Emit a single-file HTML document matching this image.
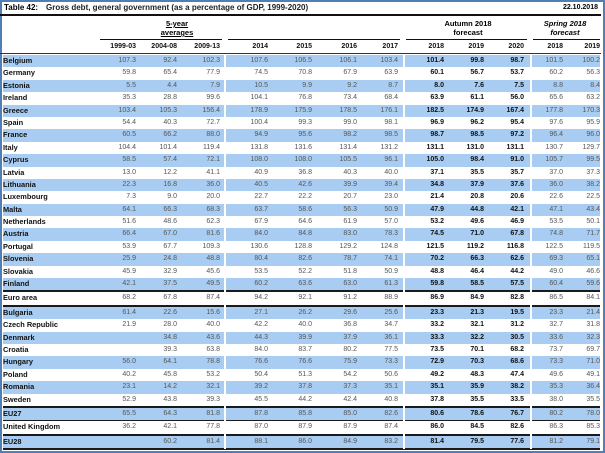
<!DOCTYPE html>
<html><head><meta charset="utf-8"><style>
body{margin:0;width:605px;height:453px;overflow:hidden;background:#fff;font-family:"Liberation Sans",sans-serif;}
.frame{position:absolute;left:0;top:0;width:601px;height:449px;border:2px solid #4f7fb5;}
.abs{position:absolute;white-space:nowrap;}
.g{display:grid;grid-template-columns:97px 36px 41px 43px 48px 44px 45px 41px 46px 40px 40px 39px 37px;position:absolute;left:3px;width:597px;}
.r{height:12.4px;line-height:12.4px;font-size:7px;color:#555;}
.r>span{text-align:right;}
.r>span:first-child{text-align:left;font-weight:bold;color:#111;font-size:7.4px;}
.r>span:nth-child(9),.r>span:nth-child(10),.r>span:nth-child(11){font-weight:bold;color:#111;}
.b{background:#a9cdf2;}
.hr{height:2px;background:#1a1a1a;}
.thin{height:1px;background:#1a1a1a;}
#rows{position:absolute;left:3px;top:55px;width:597px;}
#rows .g{position:static;}
.vs{position:absolute;top:55px;width:2px;height:394px;background:#fff;}
</style></head><body>
<div class="frame"></div>
<div class="abs" style="left:4px;top:3px;font-size:8px;font-weight:bold;">Table 42:</div>
<div class="abs" style="left:46px;top:3px;font-size:8px;font-weight:bold;color:#222;">Gross debt, general government (as a percentage of GDP, 1999-2020)</div>
<div class="abs" style="right:7px;top:4px;font-size:7px;font-weight:bold;">22.10.2018</div>
<div class="abs" style="left:0;top:14px;width:601px;height:2px;background:#111;"></div>
<div class="abs" style="left:147px;width:60px;text-align:center;top:19px;font-size:7.5px;font-weight:bold;text-decoration:underline;">5-year</div>
<div class="abs" style="left:147px;width:60px;text-align:center;top:28px;font-size:7.5px;font-weight:bold;text-decoration:underline;">averages</div>
<div class="abs" style="left:430px;width:76px;text-align:center;top:19px;font-size:7.5px;font-weight:bold;">Autumn 2018</div>
<div class="abs" style="left:430px;width:76px;text-align:center;top:28px;font-size:7.5px;font-weight:bold;">forecast</div>
<div class="abs" style="left:530px;width:70px;text-align:center;top:19px;font-size:7.5px;font-weight:bold;font-style:italic;">Spring 2018</div>
<div class="abs" style="left:530px;width:70px;text-align:center;top:28px;font-size:7.5px;font-weight:bold;font-style:italic;">forecast</div>
<div class="abs" style="left:100px;top:39px;width:122px;height:1px;background:#111;"></div>
<div class="abs" style="left:228px;top:39px;width:172px;height:1px;background:#111;"></div>
<div class="abs" style="left:406px;top:39px;width:121px;height:1px;background:#111;"></div>
<div class="abs" style="left:533px;top:39px;width:67px;height:1px;background:#111;"></div>
<div class="g r" style="top:41px;"><span></span><span style="font-weight:bold;color:#111">1999-03</span><span style="font-weight:bold;color:#111">2004-08</span><span style="font-weight:bold;color:#111">2009-13</span><span style="font-weight:bold;color:#111">2014</span><span style="font-weight:bold;color:#111">2015</span><span style="font-weight:bold;color:#111">2016</span><span style="font-weight:bold;color:#111">2017</span><span>2018</span><span>2019</span><span>2020</span><span style="font-weight:bold;color:#111">2018</span><span style="font-weight:bold;color:#111">2019</span></div>
<div class="abs" style="left:0;top:53px;width:601px;height:1px;background:#333;"></div>
<div id="rows">
<div class="g r b"><span>Belgium</span><span>107.3</span><span>92.4</span><span>102.3</span><span>107.6</span><span>106.5</span><span>106.1</span><span>103.4</span><span>101.4</span><span>99.8</span><span>98.7</span><span>101.5</span><span>100.2</span></div>
<div class="g r"><span>Germany</span><span>59.8</span><span>65.4</span><span>77.9</span><span>74.5</span><span>70.8</span><span>67.9</span><span>63.9</span><span>60.1</span><span>56.7</span><span>53.7</span><span>60.2</span><span>56.3</span></div>
<div class="g r b"><span>Estonia</span><span>5.5</span><span>4.4</span><span>7.9</span><span>10.5</span><span>9.9</span><span>9.2</span><span>8.7</span><span>8.0</span><span>7.6</span><span>7.5</span><span>8.8</span><span>8.4</span></div>
<div class="g r"><span>Ireland</span><span>35.3</span><span>28.8</span><span>99.6</span><span>104.1</span><span>76.8</span><span>73.4</span><span>68.4</span><span>63.9</span><span>61.1</span><span>56.0</span><span>65.6</span><span>63.2</span></div>
<div class="g r b"><span>Greece</span><span>103.4</span><span>105.3</span><span>156.4</span><span>178.9</span><span>175.9</span><span>178.5</span><span>176.1</span><span>182.5</span><span>174.9</span><span>167.4</span><span>177.8</span><span>170.3</span></div>
<div class="g r"><span>Spain</span><span>54.4</span><span>40.3</span><span>72.7</span><span>100.4</span><span>99.3</span><span>99.0</span><span>98.1</span><span>96.9</span><span>96.2</span><span>95.4</span><span>97.6</span><span>95.9</span></div>
<div class="g r b"><span>France</span><span>60.5</span><span>66.2</span><span>88.0</span><span>94.9</span><span>95.6</span><span>98.2</span><span>98.5</span><span>98.7</span><span>98.5</span><span>97.2</span><span>96.4</span><span>96.0</span></div>
<div class="g r"><span>Italy</span><span>104.4</span><span>101.4</span><span>119.4</span><span>131.8</span><span>131.6</span><span>131.4</span><span>131.2</span><span>131.1</span><span>131.0</span><span>131.1</span><span>130.7</span><span>129.7</span></div>
<div class="g r b"><span>Cyprus</span><span>58.5</span><span>57.4</span><span>72.1</span><span>108.0</span><span>108.0</span><span>105.5</span><span>96.1</span><span>105.0</span><span>98.4</span><span>91.0</span><span>105.7</span><span>99.5</span></div>
<div class="g r"><span>Latvia</span><span>13.0</span><span>12.2</span><span>41.1</span><span>40.9</span><span>36.8</span><span>40.3</span><span>40.0</span><span>37.1</span><span>35.5</span><span>35.7</span><span>37.0</span><span>37.3</span></div>
<div class="g r b"><span>Lithuania</span><span>22.3</span><span>16.8</span><span>36.0</span><span>40.5</span><span>42.6</span><span>39.9</span><span>39.4</span><span>34.8</span><span>37.9</span><span>37.6</span><span>36.0</span><span>38.2</span></div>
<div class="g r"><span>Luxembourg</span><span>7.3</span><span>9.0</span><span>20.0</span><span>22.7</span><span>22.2</span><span>20.7</span><span>23.0</span><span>21.4</span><span>20.8</span><span>20.6</span><span>22.6</span><span>22.5</span></div>
<div class="g r b"><span>Malta</span><span>64.1</span><span>66.3</span><span>68.3</span><span>63.7</span><span>58.6</span><span>56.3</span><span>50.9</span><span>47.9</span><span>44.8</span><span>42.1</span><span>47.1</span><span>43.4</span></div>
<div class="g r"><span>Netherlands</span><span>51.6</span><span>48.6</span><span>62.3</span><span>67.9</span><span>64.6</span><span>61.9</span><span>57.0</span><span>53.2</span><span>49.6</span><span>46.9</span><span>53.5</span><span>50.1</span></div>
<div class="g r b"><span>Austria</span><span>66.4</span><span>67.0</span><span>81.6</span><span>84.0</span><span>84.8</span><span>83.0</span><span>78.3</span><span>74.5</span><span>71.0</span><span>67.8</span><span>74.8</span><span>71.7</span></div>
<div class="g r"><span>Portugal</span><span>53.9</span><span>67.7</span><span>109.3</span><span>130.6</span><span>128.8</span><span>129.2</span><span>124.8</span><span>121.5</span><span>119.2</span><span>116.8</span><span>122.5</span><span>119.5</span></div>
<div class="g r b"><span>Slovenia</span><span>25.9</span><span>24.8</span><span>48.8</span><span>80.4</span><span>82.6</span><span>78.7</span><span>74.1</span><span>70.2</span><span>66.3</span><span>62.6</span><span>69.3</span><span>65.1</span></div>
<div class="g r"><span>Slovakia</span><span>45.9</span><span>32.9</span><span>45.6</span><span>53.5</span><span>52.2</span><span>51.8</span><span>50.9</span><span>48.8</span><span>46.4</span><span>44.2</span><span>49.0</span><span>46.6</span></div>
<div class="g r b"><span>Finland</span><span>42.1</span><span>37.5</span><span>49.5</span><span>60.2</span><span>63.6</span><span>63.0</span><span>61.3</span><span>59.8</span><span>58.5</span><span>57.5</span><span>60.4</span><span>59.6</span></div>
<div class="hr"></div>
<div class="g r"><span>Euro area</span><span>68.2</span><span>67.8</span><span>87.4</span><span>94.2</span><span>92.1</span><span>91.2</span><span>88.9</span><span>86.9</span><span>84.9</span><span>82.8</span><span>86.5</span><span>84.1</span></div>
<div class="hr"></div>
<div class="g r b"><span>Bulgaria</span><span>61.4</span><span>22.6</span><span>15.6</span><span>27.1</span><span>26.2</span><span>29.6</span><span>25.6</span><span>23.3</span><span>21.3</span><span>19.5</span><span>23.3</span><span>21.4</span></div>
<div class="g r"><span>Czech Republic</span><span>21.9</span><span>28.0</span><span>40.0</span><span>42.2</span><span>40.0</span><span>36.8</span><span>34.7</span><span>33.2</span><span>32.1</span><span>31.2</span><span>32.7</span><span>31.8</span></div>
<div class="g r b"><span>Denmark</span><span></span><span>34.8</span><span>43.6</span><span>44.3</span><span>39.9</span><span>37.9</span><span>36.1</span><span>33.3</span><span>32.2</span><span>30.5</span><span>33.6</span><span>32.3</span></div>
<div class="g r"><span>Croatia</span><span></span><span>39.3</span><span>63.8</span><span>84.0</span><span>83.7</span><span>80.2</span><span>77.5</span><span>73.5</span><span>70.1</span><span>68.2</span><span>73.7</span><span>69.7</span></div>
<div class="g r b"><span>Hungary</span><span>56.0</span><span>64.1</span><span>78.8</span><span>76.6</span><span>76.6</span><span>75.9</span><span>73.3</span><span>72.9</span><span>70.3</span><span>68.6</span><span>73.3</span><span>71.0</span></div>
<div class="g r"><span>Poland</span><span>40.2</span><span>45.8</span><span>53.2</span><span>50.4</span><span>51.3</span><span>54.2</span><span>50.6</span><span>49.2</span><span>48.3</span><span>47.4</span><span>49.6</span><span>49.1</span></div>
<div class="g r b"><span>Romania</span><span>23.1</span><span>14.2</span><span>32.1</span><span>39.2</span><span>37.8</span><span>37.3</span><span>35.1</span><span>35.1</span><span>35.9</span><span>38.2</span><span>35.3</span><span>36.4</span></div>
<div class="g r"><span>Sweden</span><span>52.9</span><span>43.8</span><span>39.3</span><span>45.5</span><span>44.2</span><span>42.4</span><span>40.8</span><span>37.8</span><span>35.5</span><span>33.5</span><span>38.0</span><span>35.5</span></div>
<div class="hr"></div>
<div class="g r b"><span>EU27</span><span>65.5</span><span>64.3</span><span>81.8</span><span>87.8</span><span>85.8</span><span>85.0</span><span>82.6</span><span>80.6</span><span>78.6</span><span>76.7</span><span>80.2</span><span>78.0</span></div>
<div class="thin"></div>
<div class="g r"><span>United Kingdom</span><span>36.2</span><span>42.1</span><span>77.8</span><span>87.0</span><span>87.9</span><span>87.9</span><span>87.4</span><span>86.0</span><span>84.5</span><span>82.6</span><span>86.3</span><span>85.3</span></div>
<div class="hr"></div>
<div class="g r b"><span>EU28</span><span></span><span>60.2</span><span>81.4</span><span>88.1</span><span>86.0</span><span>84.9</span><span>83.2</span><span>81.4</span><span>79.5</span><span>77.6</span><span>81.2</span><span>79.1</span></div>
<div class="hr"></div>
</div>
<div class="vs" style="left:224px;"></div>
<div class="vs" style="left:403px;"></div>
<div class="vs" style="left:530px;"></div>
</body></html>
